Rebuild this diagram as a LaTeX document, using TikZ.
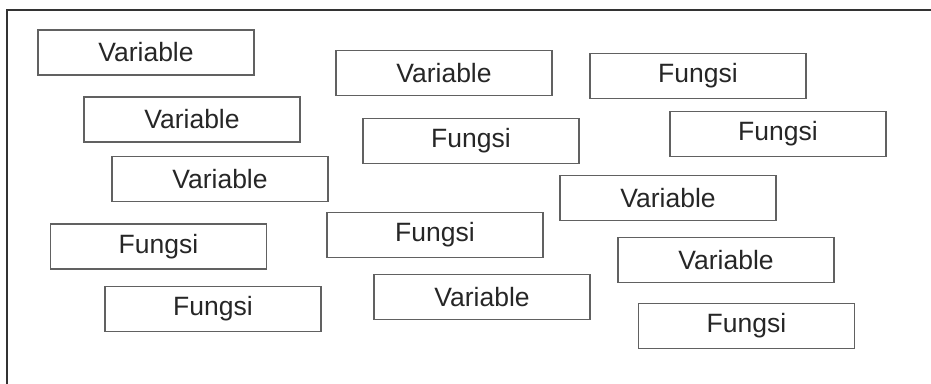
\documentclass[tikz,border=0pt]{standalone}
\usepackage{fontspec}
\setmainfont{Liberation Sans}
\begin{document}
\begin{tikzpicture}[x=1pt,y=-1pt,
  term/.style={draw=black!62, line width=1.4pt, rectangle, minimum width=216pt, minimum height=45pt, inner sep=0pt, text=black!85, font=\fontsize{26.5}{30}\selectfont}]
\useasboundingbox (0,0) rectangle (931,383);
\begin{scope}
\clip (0,0) rectangle (931,383);
\draw[black!80, line width=2.6pt] (7,390) -- (7,10) -- (940,10);
\end{scope}
\node[term] (v1) at (146,52.5) {Variable};
\node[term] (v2) at (192,119.5) {Variable};
\node[term] (v3) at (220,179) {Variable};
\node[term] (f1) at (158.5,246.5) {Fungsi};
\node[term] (f2) at (213,309) {Fungsi};
\node[term] (v4) at (444,73) {Variable};
\node[term] (f3) at (471,141) {Fungsi};
\node[term] (f4) at (435,235) {Fungsi};
\node[term] (v5) at (482,297) {Variable};
\node[term] (f5) at (698,76) {Fungsi};
\node[term] (f6) at (778,134) {Fungsi};
\node[term] (v6) at (668,198) {Variable};
\node[term] (v7) at (726,260) {Variable};
\node[term] (f7) at (746.5,326) {Fungsi};
\end{tikzpicture}
\end{document}
